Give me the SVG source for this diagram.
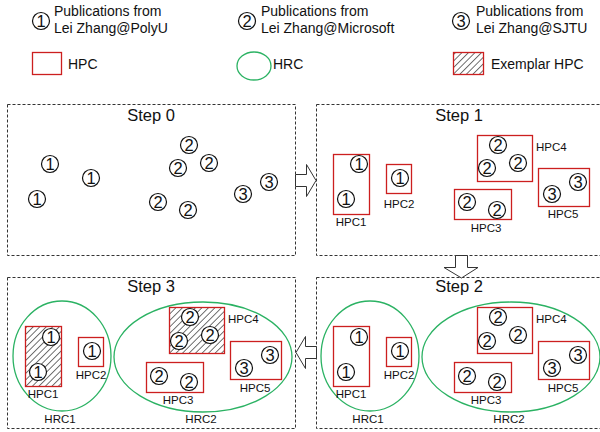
<svg xmlns="http://www.w3.org/2000/svg" width="600" height="432" viewBox="0 0 600 432">
  <style>
    text { font-family: "Liberation Sans", Arial, sans-serif; fill: #111; }
    .pn { fill: none; stroke: #333; stroke-width: 1; stroke-dasharray: 3 2; }
    .hpc { fill: none; stroke: #cc1f1f; stroke-width: 1.3; }
    .ex { fill: url(#hatch); stroke: #cc1f1f; stroke-width: 1.3; }
    .hrc { fill: none; stroke: #2bb263; stroke-width: 1.3; }
    .pc { fill: #fff; stroke: #111; stroke-width: 1.2; }
    .d { font-size: 16.5px; text-anchor: middle; }
    .lb { font-size: 11.5px; text-anchor: middle; }
    .lbs { font-size: 11.5px; }
    .tt { font-size: 16.5px; text-anchor: middle; }
    .lg { font-size: 14px; }
    .arw { fill: #fff; stroke: #333; stroke-width: 1; stroke-linejoin: miter; }
  </style>
  <defs>
    <pattern id="hatch" patternUnits="userSpaceOnUse" width="4.6" height="4.6" patternTransform="rotate(45)">
      <rect width="4.6" height="4.6" fill="#fff"/>
      <line x1="0" y1="0" x2="0" y2="4.6" stroke="#333" stroke-width="1.4"/>
    </pattern>
  </defs>

  <!-- legend -->
  <g id="legend">
    <g id="leg-polyu">
      <circle class="pc" cx="41" cy="21" r="8.5"/><text class="d" x="41" y="27">1</text>
      <text class="lg" x="54" y="16">Publications from</text>
      <text class="lg" x="54" y="33">Lei Zhang@PolyU</text>
    </g>
    <g id="leg-msr">
      <circle class="pc" cx="247" cy="21" r="8.5"/><text class="d" x="247" y="27">2</text>
      <text class="lg" x="261" y="16">Publications from</text>
      <text class="lg" x="261" y="33">Lei Zhang@Microsoft</text>
    </g>
    <g id="leg-sjtu">
      <circle class="pc" cx="461" cy="21" r="8.5"/><text class="d" x="461" y="27">3</text>
      <text class="lg" x="476" y="16">Publications from</text>
      <text class="lg" x="476" y="33">Lei Zhang@SJTU</text>
    </g>
    <g id="leg-hpc">
      <rect class="hpc" x="32.5" y="52.5" width="29" height="22"/>
      <text class="lg" x="68" y="69">HPC</text>
    </g>
    <g id="leg-hrc">
      <ellipse class="hrc" cx="254" cy="66" rx="17" ry="14"/>
      <text class="lg" x="273" y="69">HRC</text>
    </g>
    <g id="leg-exemplar">
      <rect class="ex" x="453.5" y="52.5" width="30" height="22"/>
      <text class="lg" x="491" y="69">Exemplar HPC</text>
    </g>
  </g>

  <!-- Step 0: raw publications -->
  <g id="step0">
    <rect class="pn" x="7.5" y="104.5" width="288" height="151"/>
    <text class="tt" x="151" y="121">Step 0</text>
    <g transform="translate(-309,0)">
      <circle class="pc" cx="359" cy="164" r="8.5"/><text class="d" x="359" y="170">1</text>
      <circle class="pc" cx="346" cy="199" r="8.5"/><text class="d" x="346" y="205">1</text>
      <circle class="pc" cx="400" cy="178" r="8.5"/><text class="d" x="400" y="184">1</text>
      <circle class="pc" cx="498" cy="145" r="8.5"/><text class="d" x="498" y="151">2</text>
      <circle class="pc" cx="487" cy="168" r="8.5"/><text class="d" x="487" y="174">2</text>
      <circle class="pc" cx="518" cy="163" r="8.5"/><text class="d" x="518" y="169">2</text>
      <circle class="pc" cx="467" cy="202" r="8.5"/><text class="d" x="467" y="208">2</text>
      <circle class="pc" cx="497" cy="210" r="8.5"/><text class="d" x="497" y="216">2</text>
      <circle class="pc" cx="578" cy="182" r="8.5"/><text class="d" x="578" y="188">3</text>
      <circle class="pc" cx="552" cy="194" r="8.5"/><text class="d" x="552" y="200">3</text>
    </g>
  </g>

  <!-- Step 1: HPC clusters -->
  <g id="step1">
    <rect class="pn" x="316.5" y="104.5" width="300" height="151"/>
    <text class="tt" x="459" y="121">Step 1</text>
    <g id="s1-hpc1">
      <rect class="hpc" x="333.5" y="154.5" width="36" height="60"/>
      <circle class="pc" cx="359" cy="164" r="8.5"/><text class="d" x="359" y="170">1</text>
      <circle class="pc" cx="346" cy="199" r="8.5"/><text class="d" x="346" y="205">1</text>
      <text class="lb" x="351" y="226">HPC1</text>
    </g>
    <g id="s1-hpc2">
      <rect class="hpc" x="386.5" y="164.5" width="25" height="29"/>
      <circle class="pc" cx="400" cy="178" r="8.5"/><text class="d" x="400" y="184">1</text>
      <text class="lb" x="399" y="208">HPC2</text>
    </g>
    <g id="s1-hpc4">
      <rect class="hpc" x="477.5" y="135.5" width="55" height="46"/>
      <circle class="pc" cx="498" cy="145" r="8.5"/><text class="d" x="498" y="151">2</text>
      <circle class="pc" cx="487" cy="168" r="8.5"/><text class="d" x="487" y="174">2</text>
      <circle class="pc" cx="518" cy="163" r="8.5"/><text class="d" x="518" y="169">2</text>
      <text class="lbs" x="536" y="151">HPC4</text>
    </g>
    <g id="s1-hpc3">
      <rect class="hpc" x="454.5" y="189.5" width="57" height="30"/>
      <circle class="pc" cx="467" cy="202" r="8.5"/><text class="d" x="467" y="208">2</text>
      <circle class="pc" cx="497" cy="210" r="8.5"/><text class="d" x="497" y="216">2</text>
      <text class="lb" x="486" y="232">HPC3</text>
    </g>
    <g id="s1-hpc5">
      <rect class="hpc" x="538.5" y="168.5" width="51" height="38"/>
      <circle class="pc" cx="578" cy="182" r="8.5"/><text class="d" x="578" y="188">3</text>
      <circle class="pc" cx="552" cy="194" r="8.5"/><text class="d" x="552" y="200">3</text>
      <text class="lb" x="563" y="218">HPC5</text>
    </g>
  </g>

  <!-- Step 2: HPCs grouped into HRCs -->
  <g id="step2" transform="translate(0,173)">
    <rect class="pn" x="316.5" y="104.5" width="300" height="151"/>
    <text class="tt" x="459" y="119">Step 2</text>
    <g id="s2-hrc1">
      <ellipse class="hrc" cx="370" cy="183" rx="49" ry="55"/>
      <text class="lb" x="368" y="250">HRC1</text>
    </g>
    <g id="s2-hrc2">
      <ellipse class="hrc" cx="511" cy="184" rx="89" ry="55"/>
      <text class="lb" x="509" y="250">HRC2</text>
    </g>
    <g id="s2-hpc1">
      <rect class="hpc" x="333.5" y="153.5" width="36" height="60"/>
      <circle class="pc" cx="359" cy="164" r="8.5"/><text class="d" x="359" y="170">1</text>
      <circle class="pc" cx="346" cy="199" r="8.5"/><text class="d" x="346" y="205">1</text>
      <text class="lb" x="351" y="225">HPC1</text>
    </g>
    <g id="s2-hpc2">
      <rect class="hpc" x="386.5" y="164.5" width="25" height="29"/>
      <circle class="pc" cx="400" cy="178" r="8.5"/><text class="d" x="400" y="184">1</text>
      <text class="lb" x="399" y="206">HPC2</text>
    </g>
    <g id="s2-hpc4">
      <rect class="hpc" x="477.5" y="134.5" width="55" height="46"/>
      <circle class="pc" cx="498" cy="144" r="8.5"/><text class="d" x="498" y="150">2</text>
      <circle class="pc" cx="487" cy="168" r="8.5"/><text class="d" x="487" y="174">2</text>
      <circle class="pc" cx="518" cy="162" r="8.5"/><text class="d" x="518" y="168">2</text>
      <text class="lbs" x="536" y="150">HPC4</text>
    </g>
    <g id="s2-hpc3">
      <rect class="hpc" x="454.5" y="189.5" width="57" height="30"/>
      <circle class="pc" cx="467" cy="203" r="8.5"/><text class="d" x="467" y="209">2</text>
      <circle class="pc" cx="497" cy="209" r="8.5"/><text class="d" x="497" y="215">2</text>
      <text class="lb" x="486" y="231">HPC3</text>
    </g>
    <g id="s2-hpc5">
      <rect class="hpc" x="538.5" y="168.5" width="51" height="38"/>
      <circle class="pc" cx="578" cy="182" r="8.5"/><text class="d" x="578" y="188">3</text>
      <circle class="pc" cx="552" cy="195" r="8.5"/><text class="d" x="552" y="201">3</text>
      <text class="lb" x="563" y="219">HPC5</text>
    </g>
  </g>

  <!-- Step 3: exemplar HPC chosen in each HRC -->
  <g id="step3" transform="translate(-308,173)">
    <rect class="pn" x="315.5" y="104.5" width="288" height="151"/>
    <text class="tt" x="459" y="119">Step 3</text>
    <g id="s3-hrc1">
      <ellipse class="hrc" cx="370" cy="183" rx="49" ry="55"/>
      <text class="lb" x="368" y="250">HRC1</text>
    </g>
    <g id="s3-hrc2">
      <ellipse class="hrc" cx="511" cy="184" rx="89" ry="55"/>
      <text class="lb" x="509" y="250">HRC2</text>
    </g>
    <g id="s3-hpc1">
      <rect class="ex" x="333.5" y="153.5" width="36" height="60"/>
      <circle class="pc" cx="359" cy="164" r="8.5"/><text class="d" x="359" y="170">1</text>
      <circle class="pc" cx="346" cy="199" r="8.5"/><text class="d" x="346" y="205">1</text>
      <text class="lb" x="351" y="225">HPC1</text>
    </g>
    <g id="s3-hpc2">
      <rect class="hpc" x="386.5" y="164.5" width="25" height="29"/>
      <circle class="pc" cx="400" cy="178" r="8.5"/><text class="d" x="400" y="184">1</text>
      <text class="lb" x="399" y="206">HPC2</text>
    </g>
    <g id="s3-hpc4">
      <rect class="ex" x="477.5" y="134.5" width="55" height="46"/>
      <circle class="pc" cx="498" cy="144" r="8.5"/><text class="d" x="498" y="150">2</text>
      <circle class="pc" cx="487" cy="168" r="8.5"/><text class="d" x="487" y="174">2</text>
      <circle class="pc" cx="518" cy="162" r="8.5"/><text class="d" x="518" y="168">2</text>
      <text class="lbs" x="536" y="150">HPC4</text>
    </g>
    <g id="s3-hpc3">
      <rect class="hpc" x="454.5" y="189.5" width="57" height="30"/>
      <circle class="pc" cx="467" cy="203" r="8.5"/><text class="d" x="467" y="209">2</text>
      <circle class="pc" cx="497" cy="209" r="8.5"/><text class="d" x="497" y="215">2</text>
      <text class="lb" x="486" y="231">HPC3</text>
    </g>
    <g id="s3-hpc5">
      <rect class="hpc" x="538.5" y="168.5" width="51" height="38"/>
      <circle class="pc" cx="578" cy="182" r="8.5"/><text class="d" x="578" y="188">3</text>
      <circle class="pc" cx="552" cy="195" r="8.5"/><text class="d" x="552" y="201">3</text>
      <text class="lb" x="563" y="219">HPC5</text>
    </g>
  </g>

  <!-- block arrows between steps -->
  <g id="connectors">
    <polygon class="arw" points="295.5,174.5 306.5,174.5 306.5,164.5 316,180.5 306.5,196.5 306.5,186.5 295.5,186.5"/>
    <polygon class="arw" points="455.5,255.5 467.5,255.5 467.5,267.5 478,267.5 461.5,278 444,267.5 455.5,267.5"/>
    <polygon class="arw" points="316.5,346.5 305.5,346.5 305.5,336.5 296,352.5 305.5,368.5 305.5,358.5 316.5,358.5"/>
  </g>
</svg>
